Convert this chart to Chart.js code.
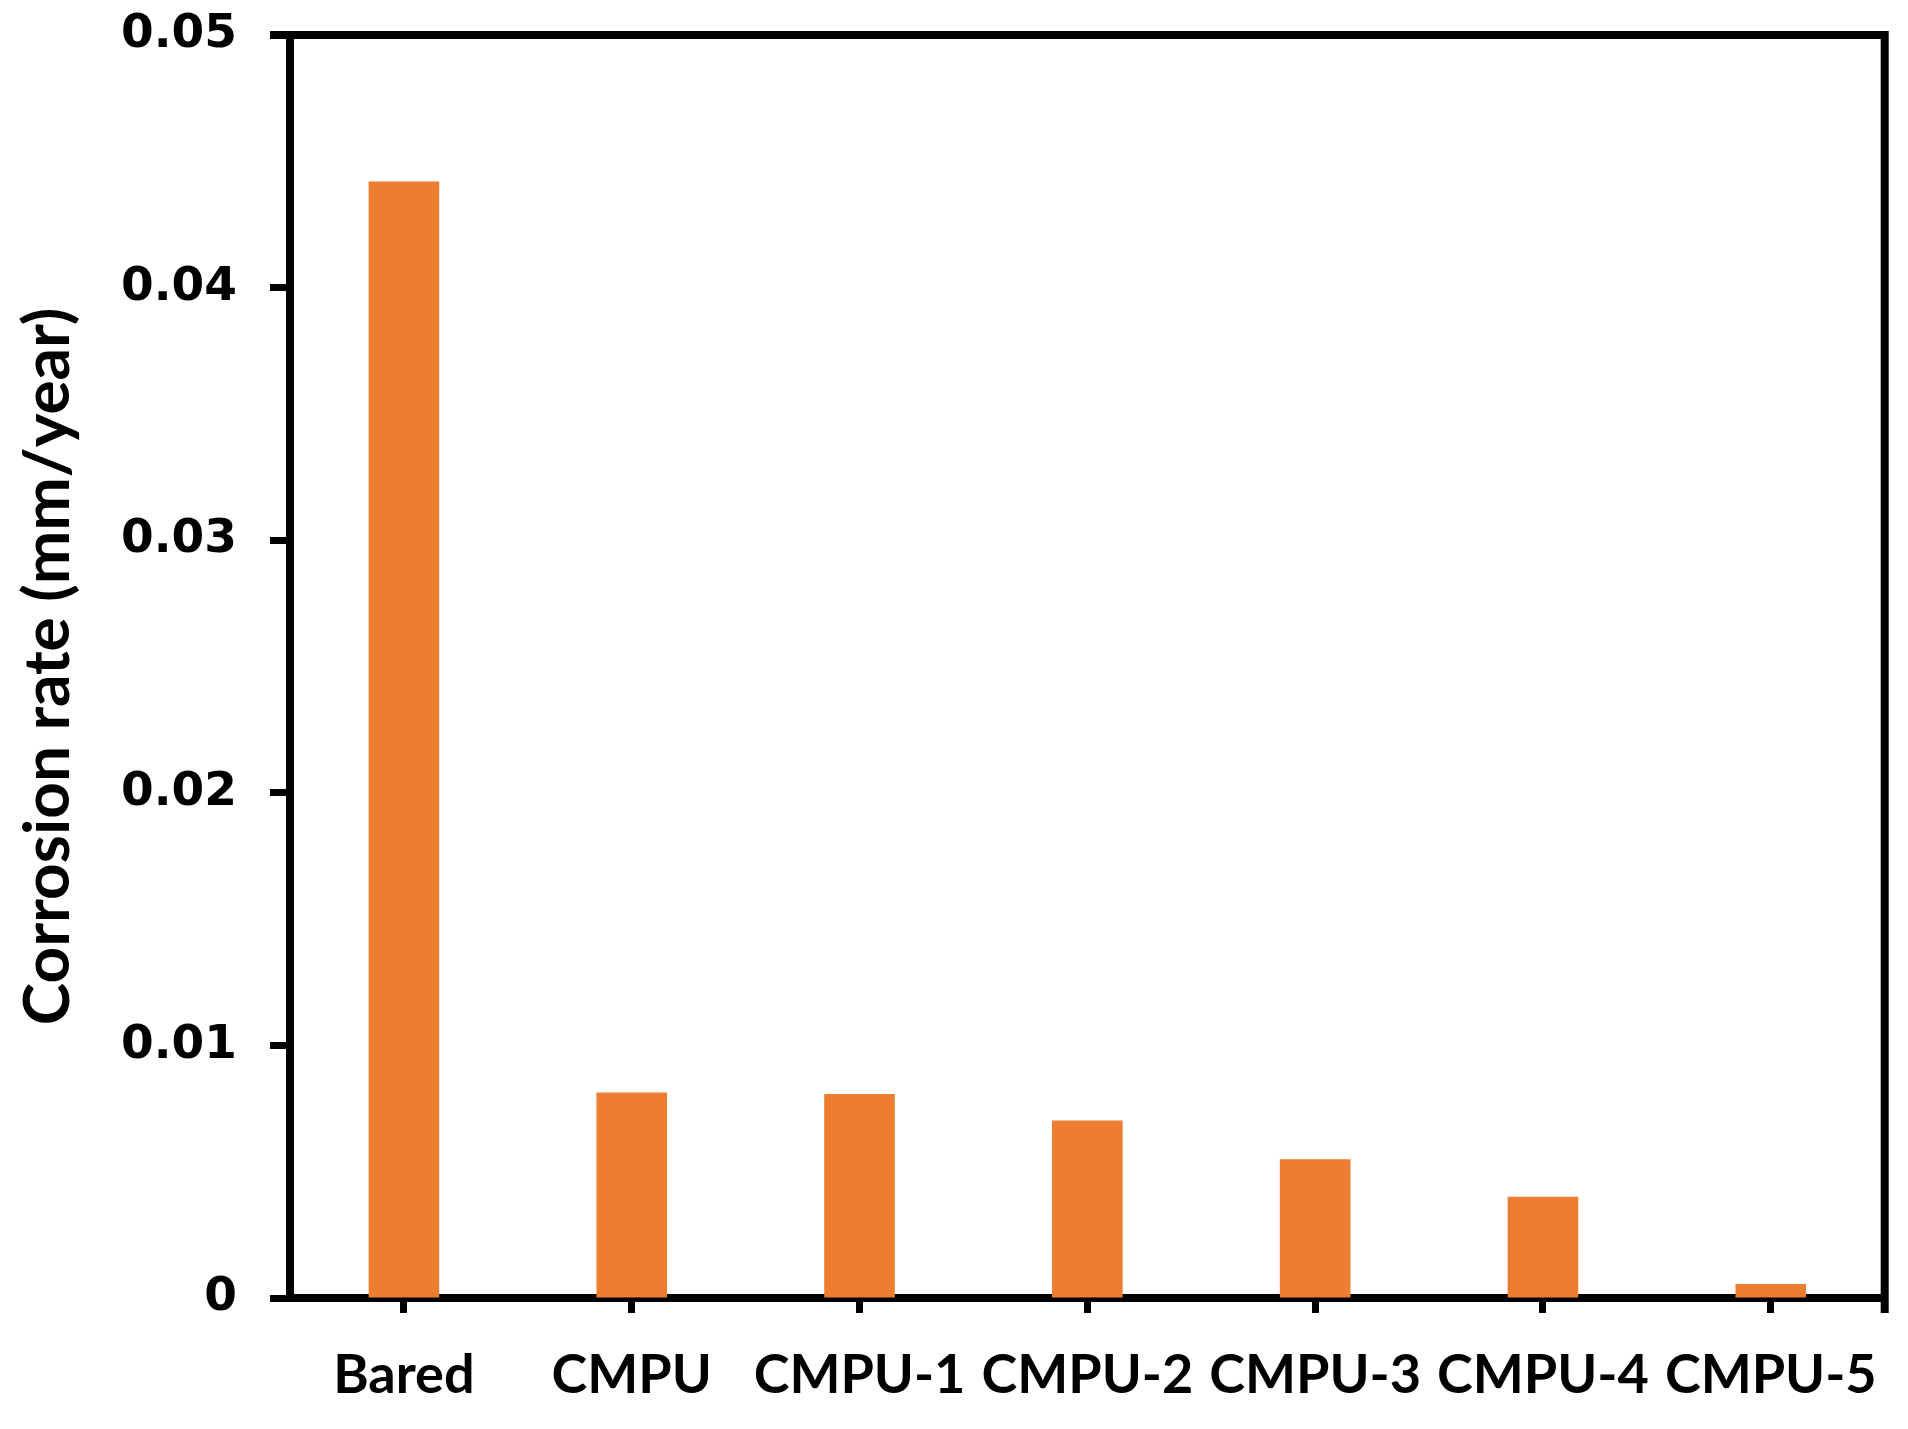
<!DOCTYPE html>
<html>
<head>
<meta charset="utf-8">
<script src="https://cdn.jsdelivr.net/npm/chart.js@4"></script>
<style>
  html, body { margin: 0; padding: 0; background: #fff; }
  #wrap { width: 1908px; height: 1429px; }
</style>
</head>
<body>
<div id="wrap"><canvas id="myChart" width="1908" height="1429"></canvas></div>
<script>
// data
const categories = ['Bared', 'CMPU', 'CMPU-1', 'CMPU-2', 'CMPU-3', 'CMPU-4', 'CMPU-5'];
const corrosionRate = [0.0442, 0.00814, 0.00808, 0.00703, 0.00549, 0.00401, 0.00055];
const yTicks = [0, 0.01, 0.02, 0.03, 0.04, 0.05];

const ctx = document.getElementById('myChart');

// top + right frame lines (Excel style plot border)
const frame = {
    id: 'frame',
    afterDraw(chart) {
        const a = chart.chartArea;
        const c = chart.ctx;
        c.save();
        c.strokeStyle = '#000';
        c.lineWidth = 8;
        c.beginPath();
        c.moveTo(a.left - 20, a.top);
        c.lineTo(a.right, a.top);
        c.lineTo(a.right, a.bottom + 15);
        c.stroke();
        c.restore();
    }
};

const myChart = new Chart(ctx, {
    type: 'bar',
    data: {
        labels: categories,
        datasets: [{
            label: 'Corrosion rate',
            data: corrosionRate,
            backgroundColor: '#ED7D31',
            barPercentage: 0.31,
            categoryPercentage: 1.0
        }]
    },
    options: {
        responsive: false,
        animation: false,
        layout: { padding: { top: 35, right: 19, left: 0, bottom: 0 } },
        plugins: {
            legend: { display: false },
            tooltip: { enabled: false }
        },
        scales: {
            x: {
                afterFit(scale) { scale.height = 131; },
                border: { display: true, color: '#000', width: 8 },
                grid: {
                    offset: false,
                    drawOnChartArea: false,
                    drawTicks: true,
                    tickLength: 15,
                    tickWidth: 7,
                    tickColor: '#000'
                },
                ticks: {
                    color: '#000',
                    padding: 30,
                    maxRotation: 0,
                    autoSkip: false,
                    font: { family: 'Lato', weight: 'bold', size: 54 }
                }
            },
            y: {
                min: 0,
                max: 0.05,
                afterFit(scale) {
                    scale.width = 290;
                    scale.paddingTop = 0;
                    scale.paddingBottom = 0;
                },
                afterBuildTicks(scale) { scale.ticks = yTicks.map(v => ({ value: v })); },
                border: { display: true, color: '#000', width: 8 },
                grid: {
                    drawOnChartArea: false,
                    drawTicks: true,
                    tickLength: 20,
                    tickWidth: 7,
                    tickColor: '#000'
                },
                ticks: {
                    color: '#000',
                    padding: 33,
                    font: { family: 'DejaVu Sans', weight: 'bold', size: 47 },
                    callback: v => v === 0 ? '0' : v.toFixed(2)
                },
                title: {
                    display: true,
                    text: 'Corrosion rate (mm/year)',
                    color: '#000',
                    padding: { top: 10, bottom: 0 },
                    font: { family: 'Lato', weight: 'bold', size: 64 }
                }
            }
        }
    },
    plugins: [frame]
});
</script>
</body>
</html>
